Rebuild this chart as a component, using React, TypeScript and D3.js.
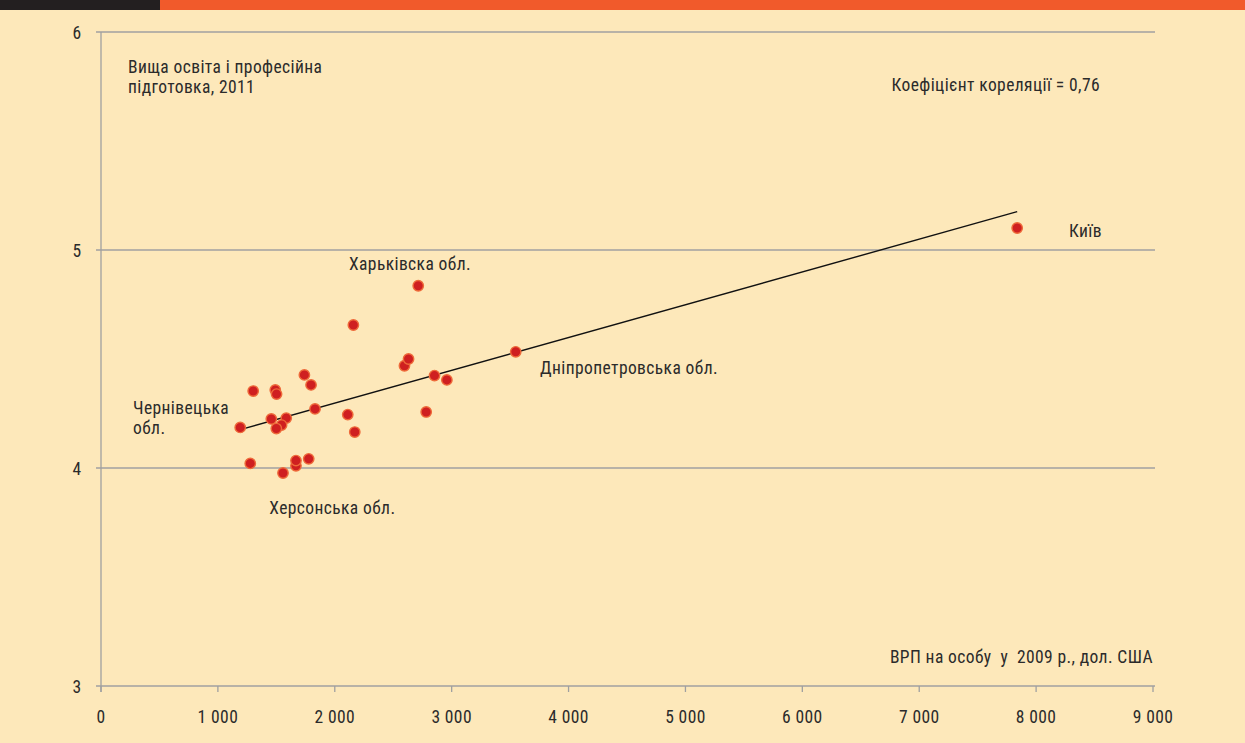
import React from "react";
import * as d3 from "d3";

const gdp: number[] = [
  1191, 1302, 1491, 1502, 1740, 1797, 1457, 1585, 1545, 1500, 1831, 2111, 2171,
  2596, 2631, 2853, 2959, 2782, 1277, 1557, 1668, 1668, 1777, 2159, 2714, 3548, 7838,
];
const edu: number[] = [
  4.186, 4.353, 4.358, 4.339, 4.427, 4.381, 4.225, 4.229, 4.197, 4.181, 4.271, 4.245, 4.165,
  4.469, 4.5, 4.424, 4.404, 4.257, 4.021, 3.977, 4.01, 4.034, 4.042, 4.656, 4.836, 4.533, 5.101,
];
const xTicks: number[] = [0, 1000, 2000, 3000, 4000, 5000, 6000, 7000, 8000, 9000];
const yTicks: number[] = [3, 4, 5, 6];
const xTickLabels: string[] = ["0", "1 000", "2 000", "3 000", "4 000", "5 000", "6 000", "7 000", "8 000", "9 000"];
const titleLines: string[] = ["Вища освіта і професійна", "підготовка, 2011"];
const corrLabel = "Коефіцієнт кореляції = 0,76";
const xAxisLabel = "ВРП на особу  у  2009 р., дол. США";
const annotations: { text: string[]; x: number; y: number }[] = [
  { text: ["Київ"], x: 8281, y: 5.06 },
  { text: ["Харьківска обл."], x: 2122, y: 4.91 },
  { text: ["Дніпропетровська обл."], x: 3756, y: 4.43 },
  { text: ["Чернівецька", "обл."], x: 274, y: 4.248 },
  { text: ["Херсонська обл."], x: 1440, y: 3.79 },
];

const W = 1245;
const H = 743;
const margin = { left: 101, right: 1153, top: 32, bottom: 686 };
const FONT = "'Liberation Sans Narrow', 'Roboto Condensed', 'Liberation Sans', sans-serif";
const TEXT = "#2b2b2b";
const FS = 17.5;
const LS = 0.4;

export default function App() {
  const x = d3.scaleLinear().domain([0, 9000]).range([margin.left, margin.right]);
  const y = d3.scaleLinear().domain([3, 6]).range([margin.bottom, margin.top]);

  const mx = d3.mean(gdp)!;
  const my = d3.mean(edu)!;
  let sxy = 0, sxx = 0;
  gdp.forEach((g, i) => {
    sxy += (g - mx) * (edu[i] - my);
    sxx += (g - mx) * (g - mx);
  });
  const slope = sxy / sxx;
  const intercept = my - slope * mx;
  const [xmin, xmax] = d3.extent(gdp) as [number, number];
  const trend = d3.line<number>().x((d) => x(d)).y((d) => y(intercept + slope * d));

  return (
    <svg width={W} height={H} style={{ position: "absolute", left: 0, top: 0 }} fontFamily={FONT} fontSize={FS} letterSpacing={LS}>
      <rect x={0} y={0} width={W} height={H} fill="#FDE8BA" />
      <rect x={0} y={0} width={160} height={10} fill="#231F20" />
      <rect x={160} y={0} width={W - 160} height={10} fill="#F15A2B" />
      {yTicks.map((t) => (
        <g key={t}>
          <line x1={margin.left - 5} x2={margin.right + 2} y1={y(t)} y2={y(t)} stroke="#a0a0a0" strokeWidth={1.3} />
          <text x={81.5} y={y(t) + 6.5} textAnchor="end" fill={TEXT}>{t}</text>
        </g>
      ))}
      <line x1={margin.left} x2={margin.left} y1={margin.top} y2={margin.bottom + 6} stroke="#a0a0a0" strokeWidth={1.3} />
      {xTicks.map((t, i) => (
        <g key={t}>
          <line x1={x(t)} x2={x(t)} y1={margin.bottom} y2={margin.bottom + 6} stroke="#a0a0a0" strokeWidth={1.3} />
          <text x={x(t)} y={723} textAnchor="middle" fill={TEXT}>{xTickLabels[i]}</text>
        </g>
      ))}
      <path d={trend([xmin, xmax]) || ""} stroke="#111" strokeWidth={1.4} fill="none" />
      {gdp.map((g, i) => (
        <circle key={i} cx={x(g)} cy={y(edu[i])} r={5.2} fill="#CF1F20" stroke="#EE6A3A" strokeWidth={1.4} />
      ))}
      {titleLines.map((l, i) => (
        <text key={l} x={128} y={73 + i * 20} fill={TEXT}>{l}</text>
      ))}
      <text x={1100} y={91} textAnchor="end" fill={TEXT}>{corrLabel}</text>
      <text x={1153} y={663} textAnchor="end" fill={TEXT} style={{ whiteSpace: "pre" }}>{xAxisLabel}</text>
      {annotations.map((a) => (
        <text key={a.text[0]} x={x(a.x)} y={y(a.y)} fill={TEXT}>
          {a.text.map((t, j) => (
            <tspan key={t} x={x(a.x)} dy={j === 0 ? 0 : 20}>{t}</tspan>
          ))}
        </text>
      ))}
    </svg>
  );
}
